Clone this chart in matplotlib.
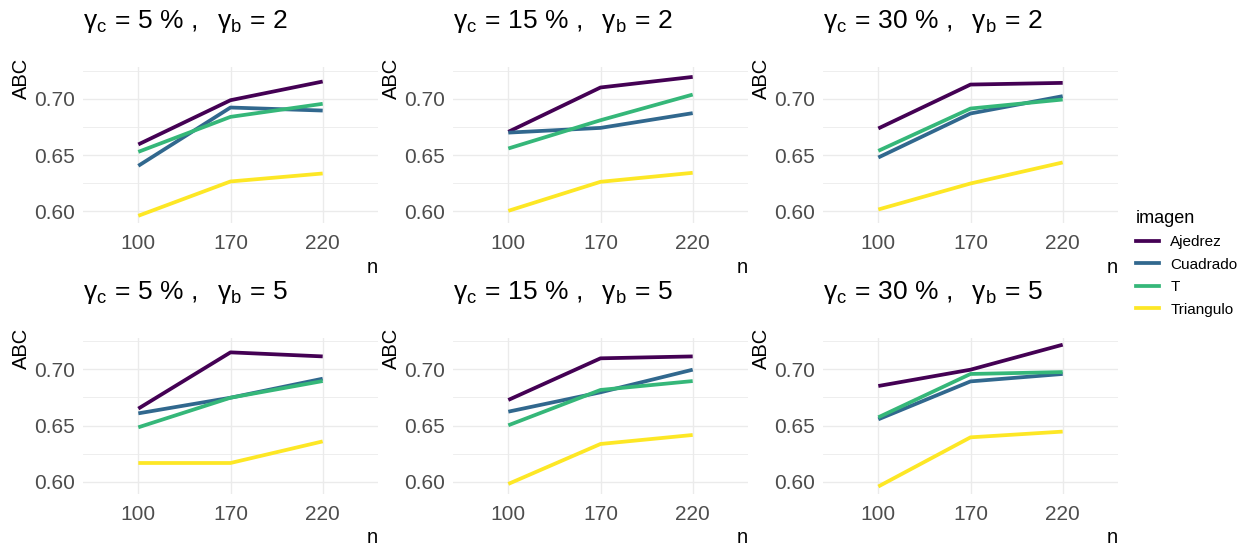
import matplotlib
matplotlib.use("Agg")
import matplotlib.pyplot as plt
from matplotlib.lines import Line2D

# === CONFIG ===
plt.rcParams["font.family"] = ["Liberation Sans", "DejaVu Sans"]
plt.rcParams["mathtext.fontset"] = "custom"
plt.rcParams["mathtext.rm"] = "Liberation Sans"
plt.rcParams["mathtext.it"] = "Liberation Sans:italic"

n_labels = ["100", "170", "220"]
imagenes = ["Ajedrez", "Cuadrado", "T", "Triangulo"]
colores = ["#440154", "#31688E", "#35B779", "#FDE725"]

gamma_c = [5, 15, 30]
gamma_b = [2, 5]

# ABC per (gamma_b, gamma_c) panel, one list per imagen, at n = 100, 170, 220
abc_b2_c5 = {
    "Ajedrez":   [0.6595, 0.6988, 0.7154],
    "Cuadrado":  [0.6405, 0.6923, 0.6896],
    "T":         [0.6529, 0.6840, 0.6956],
    "Triangulo": [0.5961, 0.6266, 0.6337],
}
abc_b2_c15 = {
    "Ajedrez":   [0.6707, 0.7101, 0.7195],
    "Cuadrado":  [0.6700, 0.6742, 0.6873],
    "T":         [0.6559, 0.6810, 0.7038],
    "Triangulo": [0.6005, 0.6263, 0.6343],
}
abc_b2_c30 = {
    "Ajedrez":   [0.6737, 0.7127, 0.7142],
    "Cuadrado":  [0.6479, 0.6870, 0.7024],
    "T":         [0.6538, 0.6914, 0.6994],
    "Triangulo": [0.6017, 0.6248, 0.6435],
}
abc_b5_c5 = {
    "Ajedrez":   [0.6651, 0.7151, 0.7115],
    "Cuadrado":  [0.6609, 0.6748, 0.6917],
    "T":         [0.6485, 0.6748, 0.6896],
    "Triangulo": [0.6168, 0.6168, 0.6360],
}
abc_b5_c15 = {
    "Ajedrez":   [0.6728, 0.7098, 0.7115],
    "Cuadrado":  [0.6624, 0.6796, 0.6997],
    "T":         [0.6503, 0.6817, 0.6896],
    "Triangulo": [0.5982, 0.6337, 0.6417],
}
abc_b5_c30 = {
    "Ajedrez":   [0.6852, 0.6997, 0.7219],
    "Cuadrado":  [0.6556, 0.6893, 0.6959],
    "T":         [0.6574, 0.6959, 0.6976],
    "Triangulo": [0.5959, 0.6396, 0.6447],
}

paneles = [
    [abc_b2_c5, abc_b2_c15, abc_b2_c30],
    [abc_b5_c5, abc_b5_c15, abc_b5_c30],
]

# === FIGURE ===
W, H = 1243, 546
fig = plt.figure(figsize=(W / 100, H / 100), dpi=100)

col_left = [83, 453, 823]
row_top = [67, 337.5]
ax_w, ax_h = 295, 156

grid_col = "#EBEBEB"
x_pos = [1, 2, 3]

for r, gb in enumerate(gamma_b):
    for c, gc in enumerate(gamma_c):
        rect = [col_left[c] / W, (H - row_top[r] - ax_h) / H, ax_w / W, ax_h / H]
        ax = fig.add_axes(rect)
        datos = paneles[r][c]
        for im, col in zip(imagenes, colores):
            ax.plot(x_pos, datos[im], color=col, lw=2.7, solid_capstyle="butt", zorder=3)

        ax.set_xlim(0.4, 3.6)
        ax.set_ylim(0.5897, 0.7283)
        ax.set_xticks(x_pos)
        ax.set_xticklabels(n_labels)
        ax.set_yticks([0.60, 0.65, 0.70])
        ax.set_yticklabels(["0.60", "0.65", "0.70"])
        ax.set_yticks([0.625, 0.675, 0.725], minor=True)

        ax.grid(True, which="major", color=grid_col, lw=1.0, zorder=0)
        ax.grid(True, which="minor", axis="y", color=grid_col, lw=0.6, zorder=0)
        ax.tick_params(which="both", length=0)
        ax.tick_params(axis="y", pad=5.5, labelsize=15, labelcolor="#4D4D4D")
        ax.tick_params(axis="x", pad=8, labelsize=15, labelcolor="#4D4D4D")
        for s in ax.spines.values():
            s.set_visible(False)

        titulo = (r"$\mathrm{γ}_{\mathrm{c}}\,=\,\mathrm{%d\ \%%\ ,\ \ }"
                  r"\mathrm{γ}_{\mathrm{b}}\,=\,\mathrm{%d}$" % (gc, gb))
        ax.text(0.0, 1.29, titulo, transform=ax.transAxes, ha="left", va="center",
                fontsize=19, color="black")
        ax.text(-0.21, 1.06, "ABC", transform=ax.transAxes, rotation=90,
                ha="center", va="top", fontsize=14.5, color="black")
        ax.text(1.0, -0.285, "n", transform=ax.transAxes, ha="right", va="center",
                fontsize=14.5, color="black")

# === LEGEND ===
handles = [Line2D([0], [0], color=col, lw=2.7) for col in colores]
leg = fig.legend(handles, imagenes, title="imagen", loc="upper left",
                 bbox_to_anchor=(1136 / W, 1 - 210 / H), frameon=False,
                 fontsize=11, title_fontsize=13, handlelength=1.5,
                 handletextpad=0.75, labelspacing=0.55, alignment="left",
                 borderaxespad=0, borderpad=0)

fig.savefig("out.png", dpi=100, facecolor="white")
